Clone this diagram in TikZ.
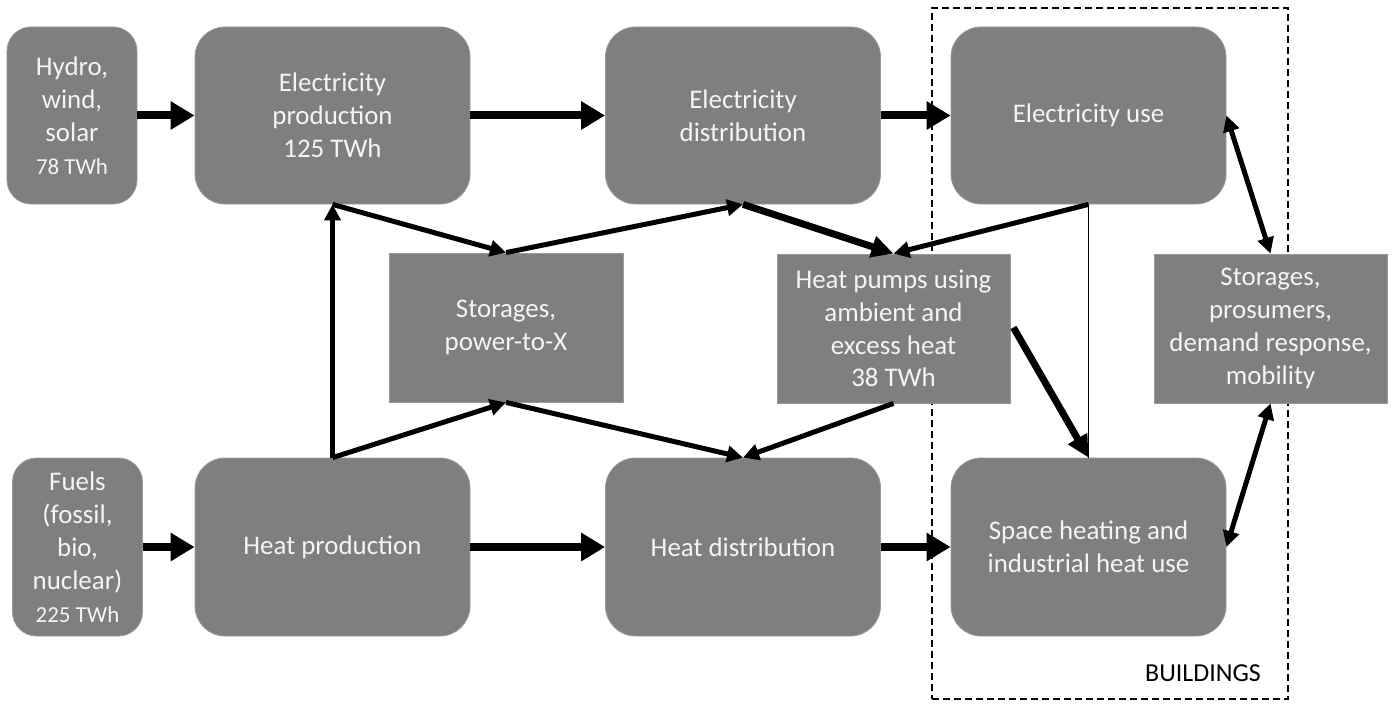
\documentclass[tikz,border=0pt]{standalone}
\usepackage{fontspec}
\setmainfont{Carlito}
\usetikzlibrary{arrows.meta}
\definecolor{boxgray}{HTML}{7F7F7F}
\definecolor{boxedge}{HTML}{9A9A9A}
\definecolor{boxtext}{HTML}{F4F4F4}
\begin{document}
\begin{tikzpicture}[x=1bp,y=-1bp,
  box/.style={fill=boxgray, draw=boxedge, line width=0.8bp, text=boxtext, align=center, inner sep=0pt,
    font=\fontsize{27}{33}\selectfont},
  rbox/.style={box, rounded corners=30bp},
  sbox/.style={box, rounded corners=24bp},
  bigarrow/.style={line width=8bp, -{Triangle[length=24bp,width=27bp]}},
  midarrow/.style={line width=7bp, -{Triangle[length=22bp,width=21bp]}},
  arr/.style={line width=5bp, -{Triangle[length=16bp,width=16bp]}},
  dblarr/.style={line width=5bp, {Triangle[length=16bp,width=16bp]}-{Triangle[length=16bp,width=16bp]}},
  thinline/.style={line width=0.8bp}
]
\useasboundingbox (0,0) rectangle (1395,704);

% buildings frame
\node[draw, dashed, line width=1.5bp, dash pattern=on 7bp off 4bp, minimum width=356bp, minimum height=691bp, inner sep=0pt] (bld) at (1110,353.5) {};
\node[font=\fontsize{26}{30}\selectfont, text=black] (bldlabel) at (1203,673) {BUILDINGS};

% top row
\node[sbox, minimum width=130bp, minimum height=177bp] (hyd) at (72,115.5)
  {Hydro,\\wind,\\solar\\{\fontsize{23}{28}\selectfont 78 TWh}};
\node[rbox, minimum width=275bp, minimum height=177bp] (ep) at (332.5,115.5)
  {Electricity\\production\\125 TWh};
\node[rbox, minimum width=275bp, minimum height=177bp] (ed) at (743,115.5)
  {Electricity\\distribution};
\node[rbox, minimum width=275bp, minimum height=177bp] (eu) at (1088.5,115.5)
  {Electricity use};

% middle row
\node[box, minimum width=234bp, minimum height=149bp] (sto) at (506,327.5)
  {Storages,\\power-to-X};
\node[box, minimum width=233bp, minimum height=149bp] (hpump) at (893.5,328.5)
  {Heat pumps using\\ambient and\\excess heat\\38 TWh};
\node[box, minimum width=233bp, minimum height=149bp] (sr) at (1270.5,328.5)
  {Storages,\\prosumers,\\demand response,\\mobility};

% bottom row
\node[sbox, minimum width=130bp, minimum height=178bp] (fuel) at (77.5,547)
  {Fuels\\(fossil,\\bio,\\nuclear)\\{\fontsize{23}{28}\selectfont 225 TWh}};
\node[rbox, minimum width=275bp, minimum height=178bp] (hprod) at (332.5,547)
  {Heat production};
\node[rbox, minimum width=275bp, minimum height=178bp] (hd) at (743,547)
  {Heat distribution};
\node[rbox, minimum width=275bp, minimum height=178bp] (sh) at (1088.5,547)
  {Space heating and\\industrial heat use};

% horizontal flows
\draw[bigarrow] (hyd.east) -- (ep.west);
\draw[bigarrow] (ep.east) -- (ed.west);
\draw[bigarrow] (ed.east) -- (eu.west);
\draw[bigarrow] (fuel.east) -- (hprod.west);
\draw[bigarrow] (hprod.east) -- (hd.west);
\draw[bigarrow] (hd.east) -- (sh.west);

% central network
\draw[arr] (hprod.north) -- (ep.south);
\draw[arr] (hprod.north) -- (sto.south);
\draw[arr] (ep.south) -- (sto.north);
\draw[arr] (sto.north) -- (ed.south);
\draw[arr] (sto.south) -- (hd.north);
\draw[midarrow] (ed.south) -- (hpump.north);
\draw[arr] (eu.south) -- (hpump.north);
\draw[arr] (hpump.south) -- (hd.north);
\draw[thinline] (eu.south) -- (sh.north);
\draw[midarrow] ([xshift=3bp,yshift=1bp]hpump.east) -- (sh.north);

% building side storages
\draw[dblarr] (eu.east) -- (sr.north);
\draw[dblarr] (sr.south) -- (sh.east);
\end{tikzpicture}
\end{document}
